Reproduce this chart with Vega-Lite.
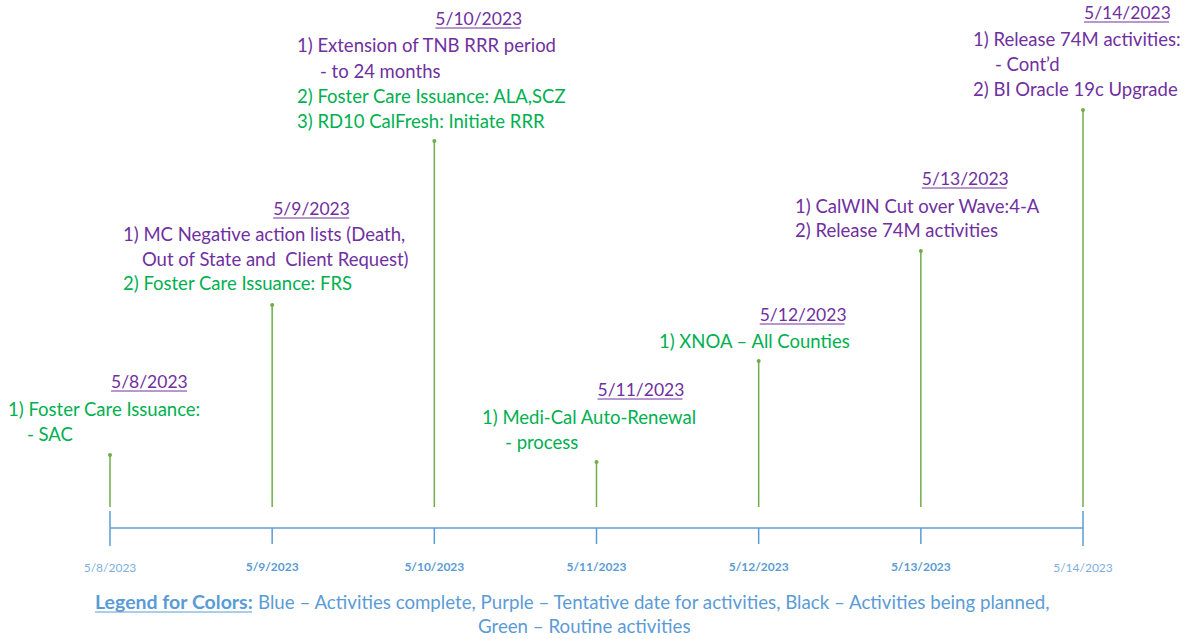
{
  "$schema": "https://vega.github.io/schema/vega-lite/v6.json",
  "width": 1196,
  "height": 639,
  "autosize": "none",
  "padding": 0,
  "background": "white",
  "config": {"view": {"stroke": null}, "font": "Lato"},
  "layer": [
    {
      "data": {"values": [{"d0": 8, "d1": 14, "h": 0}]},
      "mark": {"type": "rule", "color": "#8DB3E2", "strokeWidth": 2},
      "encoding": {
        "x": {"field": "d0", "type": "quantitative", "scale": {"domain": [8, 14], "range": [110, 1083], "nice": false, "zero": false}, "axis": null},
        "x2": {"field": "d1"},
        "y": {"field": "h", "type": "quantitative", "scale": {"domain": [-111, 528], "range": [639, 0], "nice": false, "zero": false}, "axis": null}
      }
    },
    {
      "data": {"values": [
        {"day": 8, "h0": 17, "h1": -18},
        {"day": 9, "h0": 0, "h1": -16},
        {"day": 10, "h0": 0, "h1": -16},
        {"day": 11, "h0": 0, "h1": -16},
        {"day": 12, "h0": 0, "h1": -16},
        {"day": 13, "h0": 0, "h1": -16},
        {"day": 14, "h0": 17, "h1": -18}
      ]},
      "mark": {"type": "rule", "color": "#5B9BD5", "strokeWidth": 1.5},
      "encoding": {
        "x": {"field": "day", "type": "quantitative"},
        "y": {"field": "h0", "type": "quantitative"},
        "y2": {"field": "h1"}
      }
    },
    {
      "data": {"name": "stems", "values": [
        {"day": 8, "top": 73},
        {"day": 9, "top": 223},
        {"day": 10, "top": 387},
        {"day": 11, "top": 66},
        {"day": 12, "top": 167},
        {"day": 13, "top": 277},
        {"day": 14, "top": 418}
      ]},
      "layer": [
        {
          "mark": {"type": "rule", "color": "#70AD47", "strokeWidth": 1.5},
          "encoding": {
            "x": {"field": "day", "type": "quantitative"},
            "y": {"field": "top", "type": "quantitative"},
            "y2": {"datum": 21}
          }
        },
        {
          "mark": {"type": "point", "filled": true, "color": "#70AD47", "size": 16, "opacity": 1},
          "encoding": {
            "x": {"field": "day", "type": "quantitative"},
            "y": {"field": "top", "type": "quantitative"}
          }
        }
      ]
    },
    {
      "data": {"values": [
        {"day": 8, "label": "5/8/2023", "edge": true},
        {"day": 9, "label": "5/9/2023", "edge": false},
        {"day": 10, "label": "5/10/2023", "edge": false},
        {"day": 11, "label": "5/11/2023", "edge": false},
        {"day": 12, "label": "5/12/2023", "edge": false},
        {"day": 13, "label": "5/13/2023", "edge": false},
        {"day": 14, "label": "5/14/2023", "edge": true}
      ]},
      "layer": [
        {
          "transform": [{"filter": "datum.edge"}],
          "mark": {"type": "text", "fontSize": 12, "color": "#7FAEE0", "align": "center", "baseline": "middle"},
          "encoding": {
            "x": {"field": "day", "type": "quantitative"},
            "y": {"datum": -40},
            "text": {"field": "label"}
          }
        },
        {
          "transform": [{"filter": "!datum.edge"}],
          "mark": {"type": "text", "fontSize": 12, "fontWeight": "bold", "color": "#5B9BD5", "align": "center", "baseline": "middle"},
          "encoding": {
            "x": {"field": "day", "type": "quantitative"},
            "y": {"datum": -39},
            "text": {"field": "label"}
          }
        }
      ]
    },
    {
      "data": {"values": [
        {"day": 8, "h": 145, "title": "5/8/2023"},
        {"day": 9, "h": 318, "title": "5/9/2023"},
        {"day": 10, "h": 508, "title": "5/10/2023"},
        {"day": 11, "h": 137, "title": "5/11/2023"},
        {"day": 12, "h": 212, "title": "5/12/2023"},
        {"day": 13, "h": 348, "title": "5/13/2023"},
        {"day": 14, "h": 514, "title": "5/14/2023"}
      ]},
      "layer": [
        {
          "mark": {"type": "text", "fontSize": 17.5, "color": "#7030A0", "align": "left", "baseline": "middle", "dx": 1},
          "encoding": {
            "x": {"field": "day", "type": "quantitative"},
            "y": {"field": "h", "type": "quantitative"},
            "text": {"field": "title"}
          }
        },
        {
          "transform": [{"filter": "length(datum.title) == 8"}],
          "mark": {"type": "rule", "color": "#7030A0", "strokeWidth": 1, "yOffset": 8, "xOffset": 1, "x2Offset": 77},
          "encoding": {
            "x": {"field": "day", "type": "quantitative"},
            "x2": {"field": "day"},
            "y": {"field": "h", "type": "quantitative"}
          }
        },
        {
          "transform": [{"filter": "length(datum.title) == 9"}],
          "mark": {"type": "rule", "color": "#7030A0", "strokeWidth": 1, "yOffset": 8, "xOffset": 1, "x2Offset": 86},
          "encoding": {
            "x": {"field": "day", "type": "quantitative"},
            "x2": {"field": "day"},
            "y": {"field": "h", "type": "quantitative"}
          }
        }
      ]
    },
    {
      "data": {"values": [
        {"day": 7.371, "h": 118, "text": "1) Foster Care Issuance:", "kind": "Routine"},
        {"day": 7.488, "h": 93, "text": "- SAC", "kind": "Routine"},
        {"day": 8.080, "h": 293, "text": "1) MC Negative action lists (Death,", "kind": "Tentative"},
        {"day": 8.197, "h": 268, "text": "Out of State and\u00a0 Client Request)", "kind": "Tentative"},
        {"day": 8.080, "h": 244, "text": "2) Foster Care Issuance: FRS", "kind": "Routine"},
        {"day": 9.153, "h": 482, "text": "1) Extension of TNB RRR period", "kind": "Tentative"},
        {"day": 9.295, "h": 456, "text": "- to 24 months", "kind": "Tentative"},
        {"day": 9.153, "h": 431, "text": "2) Foster Care Issuance: ALA,SCZ", "kind": "Routine"},
        {"day": 9.153, "h": 406, "text": "3) RD10 CalFresh: Initiate RRR", "kind": "Routine"},
        {"day": 10.294, "h": 110, "text": "1) Medi-Cal Auto-Renewal", "kind": "Routine"},
        {"day": 10.436, "h": 85, "text": "- process", "kind": "Routine"},
        {"day": 11.385, "h": 186, "text": "1) XNOA – All Counties", "kind": "Routine"},
        {"day": 12.224, "h": 321, "text": "1) CalWIN Cut over Wave:4-A", "kind": "Tentative"},
        {"day": 12.224, "h": 297, "text": "2) Release 74M activities", "kind": "Tentative"},
        {"day": 13.322, "h": 488, "text": "1) Release 74M activities:", "kind": "Tentative"},
        {"day": 13.457, "h": 463, "text": "- Cont’d", "kind": "Tentative"},
        {"day": 13.322, "h": 438, "text": "2) BI Oracle 19c Upgrade", "kind": "Tentative"}
      ]},
      "mark": {"type": "text", "fontSize": 18.5, "align": "left", "baseline": "middle"},
      "encoding": {
        "x": {"field": "day", "type": "quantitative"},
        "y": {"field": "h", "type": "quantitative"},
        "text": {"field": "text"},
        "color": {"field": "kind", "type": "nominal", "scale": {"domain": ["Tentative", "Routine"], "range": ["#7030A0", "#00B050"]}, "legend": null}
      }
    },
    {
      "data": {"values": [
        {"day": 7.9075, "h": -75, "text": "Legend for Colors:", "bold": true},
        {"day": 8.913, "h": -75, "text": "Blue – Activities complete, Purple – Tentative date for activities, Black – Activities being planned,", "bold": false},
        {"day": 10.269, "h": -99, "text": "Green – Routine activities", "bold": false}
      ]},
      "layer": [
        {
          "transform": [{"filter": "datum.bold"}],
          "mark": {"type": "text", "fontSize": 19.5, "fontWeight": "bold", "color": "#5B9BD5", "align": "left", "baseline": "middle"},
          "encoding": {
            "x": {"field": "day", "type": "quantitative"},
            "y": {"field": "h", "type": "quantitative"},
            "text": {"field": "text"}
          }
        },
        {
          "transform": [{"filter": "datum.bold"}],
          "mark": {"type": "rule", "color": "#5B9BD5", "strokeWidth": 1, "yOffset": 9, "x2Offset": 157},
          "encoding": {
            "x": {"field": "day", "type": "quantitative"},
            "x2": {"field": "day"},
            "y": {"field": "h", "type": "quantitative"}
          }
        },
        {
          "transform": [{"filter": "!datum.bold"}],
          "mark": {"type": "text", "fontSize": 18.7, "color": "#5B9BD5", "align": "left", "baseline": "middle"},
          "encoding": {
            "x": {"field": "day", "type": "quantitative"},
            "y": {"field": "h", "type": "quantitative"},
            "text": {"field": "text"}
          }
        }
      ]
    }
  ]
}
